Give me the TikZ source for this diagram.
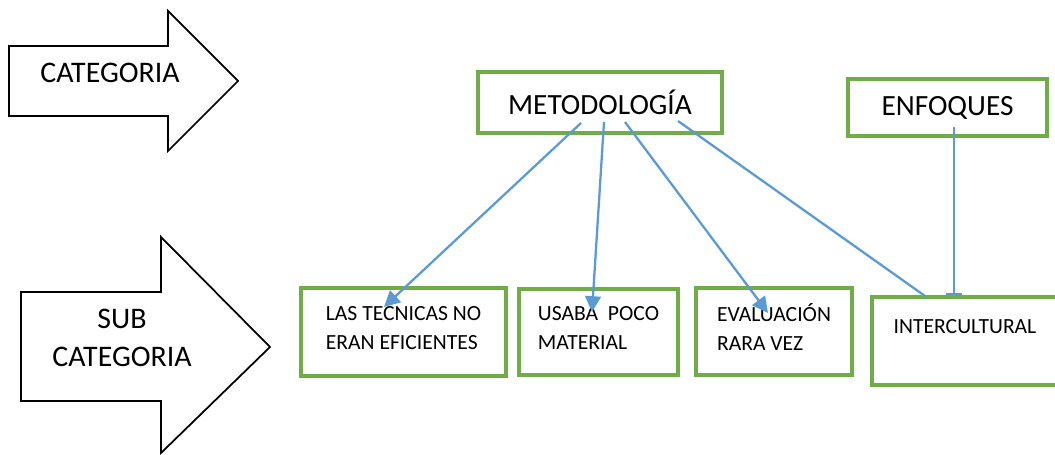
\documentclass[tikz,border=0pt]{standalone}
\usepackage{fontspec}
\setmainfont{Carlito}
\usetikzlibrary{arrows.meta,positioning,calc}
\definecolor{boxgreen}{HTML}{70AD47}
\definecolor{linkblue}{HTML}{5B9BD5}
\newcommand{\downpad}[1]{\rule[-#1]{0pt}{0pt}}
\tikzstyle{box} = [rectangle, draw=boxgreen, line width=1.8pt, align=left, inner sep=0pt]
\tikzstyle{link} = [draw=linkblue, line width=1.3pt, ->, >={Triangle[length=9pt,width=9pt]}]
\tikzstyle{bigarrow} = [draw=black, line width=1pt, fill=white]

\begin{document}
\begin{tikzpicture}[
            x=0.02cm, y=-0.02cm,
            every node/.style={text centered, font=\fontsize{12.3}{16.5}\selectfont},
            title/.style={font=\fontsize{16.7}{19}\selectfont},
            arrowtext/.style={align=center, font=\fontsize{17}{22}\selectfont}
        ]
            \useasboundingbox (0,0) rectangle (1055,455);

            % Big arrows
            \draw [bigarrow] (9,46) -- (168,46) -- (168,11) -- (238,81) -- (168,151) -- (168,116) -- (9,116) -- cycle;
            \node (cat) [arrowtext] at (110,73) {CATEGORIA};
            \draw [bigarrow] (21,292) -- (161,292) -- (161,237) -- (270,347) -- (161,453) -- (161,401) -- (21,401) -- cycle;
            \node (subcat) [arrowtext] at (122,338) {SUB\\CATEGORIA};

            % Nodes
            \node (meto) [box, title, minimum width=4.88cm, minimum height=1.22cm] at (600,102.5) {METODOLOGÍA};
            \node (enf) [box, title, minimum width=3.98cm, minimum height=1.14cm] at (947.5,107.5) {ENFOQUES};
            \node (tec) [box, minimum width=4.1cm, minimum height=1.76cm] at (403.5,332) {LAS TECNICAS NO\\ERAN EFICIENTES\downpad{5pt}};
            \node (usa) [box, minimum width=3.18cm, minimum height=1.72cm] at (598.5,332) {USABA\ \ POCO\\MATERIAL\downpad{5pt}};
            \node (eva) [box, minimum width=3.12cm, minimum height=1.74cm] at (774,331.5) {EVALUACIÓN\\RARA VEZ\downpad{5pt}};
            \node (int) [box, minimum width=3.72cm, minimum height=1.76cm] at (965,341) {INTERCULTURAL\downpad{16pt}};

            % Ends
            \coordinate (m1) at (581,123);
            \coordinate (m2) at (604,122);
            \coordinate (m3) at (625,122);
            \coordinate (m4) at (678,121);
            \coordinate (f1) at (954,127);
            \coordinate (t1) at (384,307);
            \coordinate (u1) at (592,312);
            \coordinate (e1) at (768,313);
            \coordinate (i1) at (925,296);
            \coordinate (i2) at (954,295);

            % Arrows
            \draw [link] (m1) -- (t1);
            \draw [link] (m2) -- (u1);
            \draw [link] (m3) -- (e1);
            \draw [link, -] (m4) -- (i1);
            \draw [link, -{Bar[width=9pt]}] (f1) -- (i2);
        \end{tikzpicture}
\end{document}
